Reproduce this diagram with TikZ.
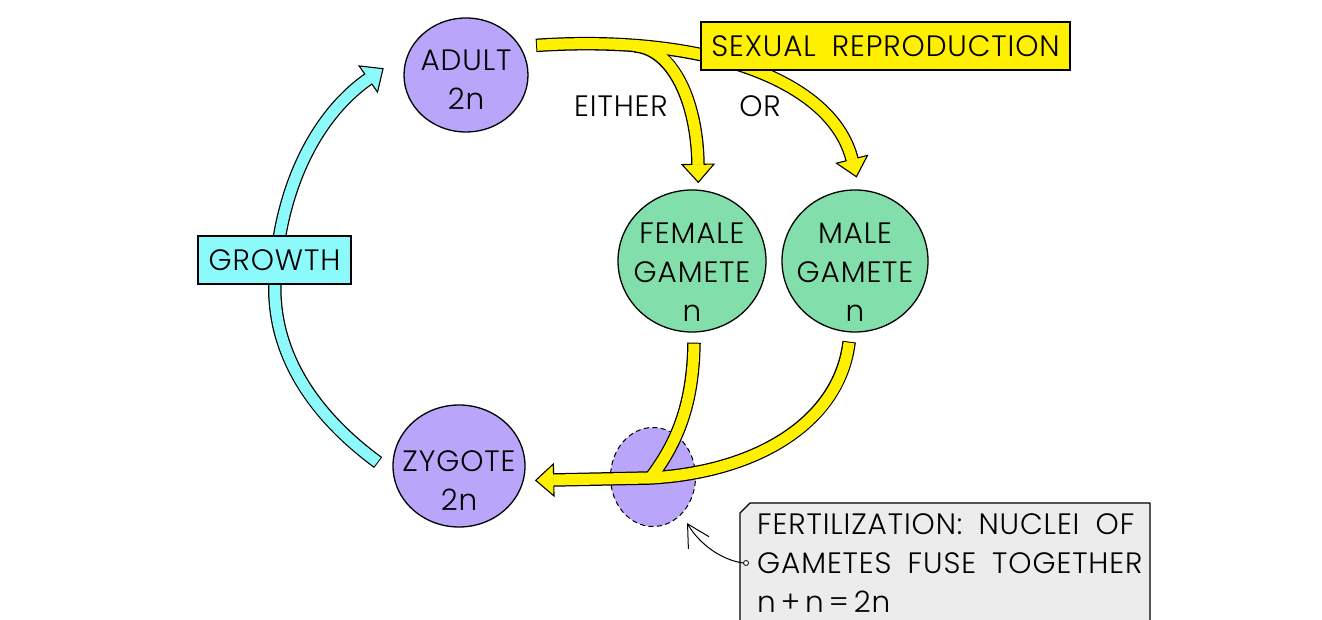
\documentclass[tikz,border=0pt]{standalone}
\usepackage{fontspec}
\setmainfont{Poppins}[UprightFont=* Light,LetterSpace=3,WordSpace=1.8]
\usetikzlibrary{shapes.geometric,arrows.meta,decorations.markings}
\definecolor{yel}{RGB}{255,240,0}
\definecolor{cyanc}{RGB}{140,250,250}
\definecolor{purp}{RGB}{185,165,250}
\definecolor{gre}{RGB}{130,222,170}
\definecolor{greyb}{RGB}{236,236,236}
\begin{document}
\begin{tikzpicture}[x=1pt,y=1pt,
  lbl/.style={font=\fontsize{29.5}{39}\selectfont, align=center, inner sep=0pt},
  cell/.style={ellipse, draw=black, line width=1.3pt, inner sep=0pt},
  bandout/.style={draw=black, line width=13.5pt, shorten <=-1pt},
  bandin/.style={draw=#1, line width=11pt},
  headtip/.style={postaction={decorate,decoration={markings,mark=at position 0.9999 with {\fill[#1] (0,-16)--(18,0)--(0,16)--cycle;\draw[black,line width=1.1pt,line join=miter] (0,-5.6)--(0,-16)--(18,0)--(0,16)--(0,5.6);}}}},
  tagbox/.style={draw=black, line width=1.5pt, inner sep=0pt, minimum height=48pt},
]
\useasboundingbox (0,0) rectangle (1322,620);
\fill[white] (0,0) rectangle (1322,620);

% cells
\node[cell, fill=purp, minimum width=124pt, minimum height=114pt] (adult) at (466,545) {};
\node[cell, fill=gre, minimum width=148pt, minimum height=142pt] (fem) at (692,359) {};
\node[cell, fill=gre, minimum width=146pt, minimum height=142pt] (male) at (855,359) {};
\node[cell, fill=purp, minimum width=132pt, minimum height=122pt] (zyg) at (459,154) {};
\node[cell, fill=purp, line width=1pt, dash pattern=on 5pt off 3.5pt, minimum width=85pt, minimum height=99pt] (blob) at (653,143) {};

% connector end points
\coordinate (topS) at ([shift={(18,-1)}]adult.30);
\coordinate (mTopE) at ([shift={(-3,30)}]male.north);
\coordinate (fTopS) at (636,574);
\coordinate (fTopE) at ([shift={(6,25)}]fem.north);
\coordinate (mBotS) at ([shift={(-6,-10)}]male.south);
\coordinate (mBotM) at (650,142);
\coordinate (zygE) at ([shift={(28,-14)}]zyg.east);
\coordinate (fBotS) at ([shift={(2,-11)}]fem.south);
\coordinate (fBotE) at (649,140);
\coordinate (cyS) at ([shift={(-15,4)}]zyg.west);
\coordinate (cyM) at (275,340);
\coordinate (cyE) at ([shift={(-35,-4)}]adult.west);

% band outlines
\draw[bandout] (topS) .. controls (705,586) and (832,540) .. (mTopE);
\draw[bandout] (fTopS) .. controls (672,571) and (697,520) .. (fTopE);
\draw[bandout] (mBotS) .. controls (840,200) and (760,148) .. (mBotM) -- (zygE);
\draw[bandout] (fBotS) .. controls (693,220) and (680,180) .. (fBotE);
\draw[bandout] (cyS) .. controls (300,215) and (272,280) .. (cyM) .. controls (278,420) and (310,500) .. (cyE);

% band fills and heads
\draw[bandin=yel, headtip=yel] (topS) .. controls (705,586) and (832,540) .. (mTopE);
\draw[bandin=yel, headtip=yel] (fTopS) .. controls (672,571) and (697,520) .. (fTopE);
\draw[bandin=yel] (fBotS) .. controls (693,220) and (680,180) .. (fBotE);
\draw[bandin=yel, headtip=yel] (mBotS) .. controls (840,200) and (760,148) .. (mBotM) -- (zygE);
\draw[bandin=cyanc, headtip=cyanc] (cyS) .. controls (300,215) and (272,280) .. (cyM) .. controls (278,420) and (310,500) .. (cyE);

% tag boxes
\node[tagbox, lbl, fill=yel, minimum width=369pt] (sexrep) at (885.5,574) {SEXUAL REPRODUCTION};
\node[tagbox, lbl, fill=cyanc, line width=1.2pt, minimum width=153pt] (growth) at (274.5,360) {GROWTH};

% cell labels
\node[lbl] (adultT) at (466,540) {ADULT\\2n};
\node[lbl] (femT) at (692,348) {FEMALE\\GAMETE\\n};
\node[lbl] (maleT) at (855,348) {MALE\\GAMETE\\n};
\node[lbl] (zygT) at (459,139) {ZYGOTE\\2n};
\node[lbl] (either) at (621,514) {EITHER};
\node[lbl] (or) at (760,514) {OR};

% fertilization note
\fill[greyb] (740,0) -- (740,107) -- (750,117) -- (1150,117) -- (1150,0) -- cycle;
\draw[line width=1.2pt, line join=round] (740,0) -- (740,107) -- (750,117) -- (1150,117) -- (1150,0);
\node[lbl, anchor=north west, align=left] (fertT) at (757,107) {FERTILIZATION: NUCLEI OF\\GAMETES FUSE TOGETHER\\n\hspace{5pt}+\hspace{5pt}n\hspace{5pt}=\hspace{5pt}2n};
\node[circle, draw, line width=0.8pt, fill=white, inner sep=0pt, minimum size=5pt] (dot) at (746,57) {};
\coordinate (fertTip) at (687,97);
\draw[line width=1pt, -{Straight Barb[length=22pt,width=24pt]}] (dot.west) .. controls (722,60) and (700,75) .. (fertTip);
\end{tikzpicture}
\end{document}
